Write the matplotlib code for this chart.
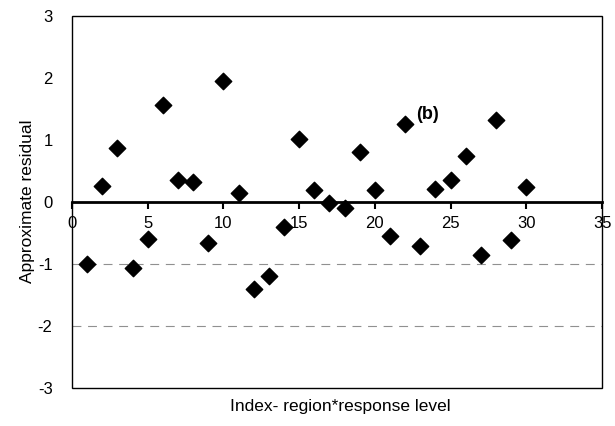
import matplotlib.pyplot as plt
from matplotlib.patches import Rectangle

# residual per index (region*response level)
index = list(range(1, 31))
residual = [-1.00, 0.26, 0.87, -1.06, -0.59, 1.57, 0.35, 0.33, -0.66, 1.95,
            0.14, -1.40, -1.19, -0.40, 1.02, 0.19, -0.02, -0.10, 0.81, 0.19,
            -0.54, 1.26, -0.71, 0.21, 0.36, 0.75, -0.85, 1.33, -0.61, 0.24]
x_ticks = [0, 5, 10, 15, 20, 25, 30, 35]
y_ticks = [-3, -2, -1, 0, 1, 2, 3]
grid_levels = [-1, -2]

plt.rcParams['font.family'] = ['Liberation Sans', 'DejaVu Sans']
plt.rcParams['axes.unicode_minus'] = False

fig = plt.figure(figsize=(6.15, 4.26), dpi=100)
ax = fig.add_axes([0.117, 0.089, 0.862, 0.873])

for g in grid_levels:
    ax.axhline(g, color='#909090', lw=0.8, ls=(0, (8, 6)), zorder=0)

ax.scatter(index, residual, marker='D', s=70, color='black', zorder=3)

ax.set_xlim(0, 35)
ax.set_ylim(-3, 3)
ax.set_xticks(x_ticks)
ax.set_yticks(y_ticks)

# x axis crosses at zero, outer frame drawn separately
for s in ['top', 'right', 'left']:
    ax.spines[s].set_visible(False)
ax.spines['bottom'].set_position(('data', 0))
ax.spines['bottom'].set_linewidth(2)
ax.add_patch(Rectangle((0, 0), 1, 1, transform=ax.transAxes, fill=False,
                       lw=1.0, edgecolor='black', clip_on=False, zorder=4))

ax.tick_params(axis='x', direction='out', length=5, width=1.5, pad=5, labelsize=12)
ax.tick_params(axis='y', length=0, pad=14, labelsize=12)

ax.text(22.7, 1.42, '(b)', fontsize=13, fontweight='bold', va='center', ha='left')

fig.text(0.045, 0.528, 'Approximate residual', fontsize=12.5, rotation=90,
         ha='center', va='center')
fig.text(0.553, 0.045, 'Index- region*response level', fontsize=12.5, ha='center', va='center')

fig.savefig('out.png', dpi=100)
